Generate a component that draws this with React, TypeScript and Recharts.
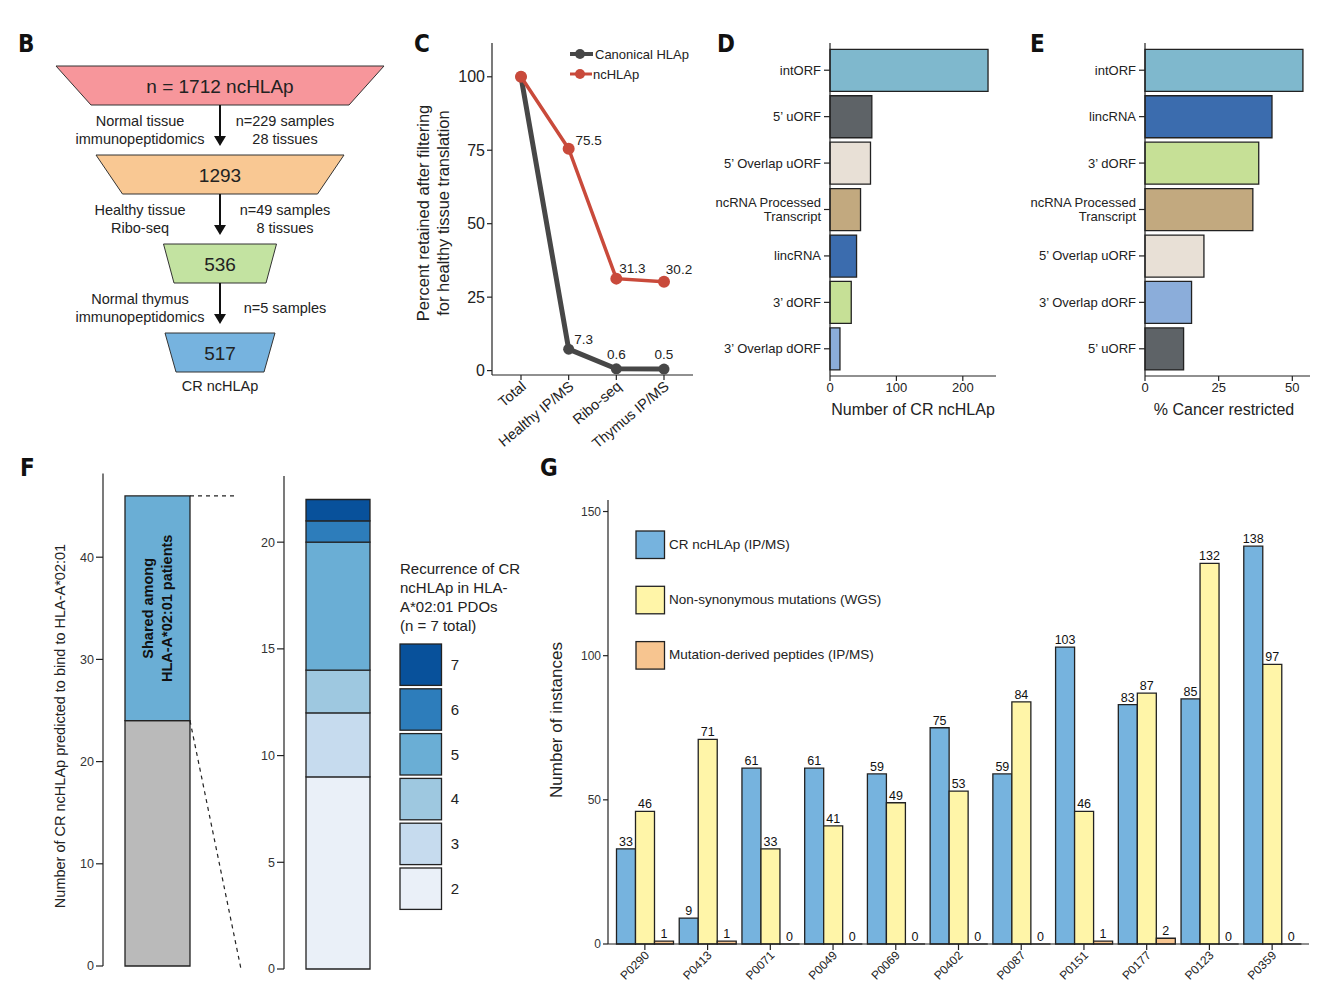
import React from 'react';
import { LineChart, Line, XAxis, YAxis, BarChart, Bar, Cell, LabelList, Trapezoid } from 'recharts';

const FONT = '"Liberation Sans", Arial, Helvetica, sans-serif';
const LETTER_FONT = '"Liberation Sans Narrow", "DejaVu Sans Condensed", "Liberation Sans", sans-serif';
const INK = '#222';

// ---- B: filtering funnel ----
const funnelCounts = [1712, 1293, 536, 517];
const funnelStepLeft = [['Normal tissue', 'immunopeptidomics'], ['Healthy tissue', 'Ribo-seq'], ['Normal thymus', 'immunopeptidomics']];
const funnelStepRight = [['n=229 samples', '28 tissues'], ['n=49 samples', '8 tissues'], ['n=5 samples']];

// ---- C: percent retained ----
const stages = ['Total', 'Healthy IP/MS', 'Ribo-seq', 'Thymus IP/MS'];
const canonicalPct = [100, 7.3, 0.6, 0.5];
const ncPct = [100, 75.5, 31.3, 30.2];

// ---- D: CR ncHLAp per ORF type ----
const orfTypesD = ['intORF', '5’ uORF', '5’ Overlap uORF', 'ncRNA Processed\nTranscript', 'lincRNA', '3’ dORF', '3’ Overlap dORF'];
const crCounts = [238, 63, 61, 46, 40, 32, 15];

// ---- E: % cancer restricted per ORF type ----
const orfTypesE = ['intORF', 'lincRNA', '3’ dORF', 'ncRNA Processed\nTranscript', '5’ Overlap uORF', '3’ Overlap dORF', '5’ uORF'];
const cancerRestrictedPct = [53.6, 43.1, 38.6, 36.6, 20, 15.8, 13.1];

// ---- F: HLA-A*02:01 binders ----
const notSharedCount = 24;
const sharedCount = 22;
const recurrenceLevels = [2, 3, 4, 5, 6, 7];
const recurrenceCounts = [9, 3, 2, 6, 1, 1];

// ---- G: instances per patient ----
const patients = ['P0290', 'P0413', 'P0071', 'P0049', 'P0069', 'P0402', 'P0087', 'P0151', 'P0177', 'P0123', 'P0359'];
const crNcHlap = [33, 9, 61, 61, 59, 75, 59, 103, 83, 85, 138];
const nonSynMut = [46, 71, 33, 41, 49, 53, 84, 46, 87, 132, 97];
const mutPeptides = [1, 1, 0, 0, 0, 0, 0, 1, 2, 0, 0];

const orfColors: Record<string, string> = {
  'intORF': '#7fb8cd',
  '5’ uORF': '#5e6367',
  '5’ Overlap uORF': '#e8e0d6',
  'ncRNA Processed\nTranscript': '#c2a97f',
  'lincRNA': '#3b6cae',
  '3’ dORF': '#c6e096',
  '3’ Overlap dORF': '#8badda',
};
const recurrenceColors: Record<number, string> = { 2: '#eaf0f8', 3: '#c6dbee', 4: '#9ec8e0', 5: '#6aaed5', 6: '#2d7dbb', 7: '#08519b' };

const retainedData = stages.map((s, i) => ({ stage: s, canonical: canonicalPct[i], nc: ncPct[i] }));
const dData = orfTypesD.map((t, i) => ({ type: t, value: crCounts[i] }));
const eData = orfTypesE.map((t, i) => ({ type: t, value: cancerRestrictedPct[i] }));
const fLeftData = [{ name: 'all', notShared: notSharedCount, shared: sharedCount }];
const fRightData = [{ name: 'shared', ...Object.fromEntries(recurrenceLevels.map((l, i) => [`r${l}`, recurrenceCounts[i]])) }];
const gData = patients.map((p, i) => ({ patient: p, cr: crNcHlap[i], mut: nonSynMut[i], pep: mutPeptides[i] }));

// F axes domains (shared with dashed connector lines)
const F_LEFT_MAX = 48.2;
const F_RIGHT_MAX = 23.1;

const CatTick = (props: any) => {
  const { x, y, payload, fontSize = 13 } = props;
  const lines = String(payload.value).split('\n');
  const lh = 13.5;
  const y0 = y - ((lines.length - 1) * lh) / 2;
  return (
    <text x={x} y={y0} textAnchor="end" fontSize={fontSize} fill={INK} fontFamily={FONT}>
      {lines.map((l, i) => (
        <tspan key={i} x={x} y={y0 + i * lh} dy="0.35em">{l}</tspan>
      ))}
    </text>
  );
};

const makeRotTick = (angle: number, fontSize: number, dx: number, dy: number) => (props: any) => {
  const { x, y, payload } = props;
  return (
    <text transform={`translate(${x + dx},${y + dy}) rotate(${angle})`} textAnchor="end" fontSize={fontSize} fill={INK} fontFamily={FONT}>
      {payload.value}
    </text>
  );
};

const makeLineLabel = (offsets: number[][]) => (props: any) => {
  const { x, y, value, index } = props;
  if (index === 0) return null;
  const [dx, dy] = offsets[index];
  return (
    <text x={x + dx} y={y + dy} textAnchor="middle" fontSize={13.5} fill={INK} fontFamily={FONT}>{value}</text>
  );
};

// value label above a bar; drawn even when the bar has zero height
const BarTopLabel = (props: any) => {
  const { x, y, width, value } = props;
  if (value === undefined || value === null) return null;
  return (
    <text x={x + width / 2} y={y - 3} textAnchor="middle" fontSize={12.5} fill="#111" fontFamily={FONT}>{value}</text>
  );
};

const SharedLabel = (props: any) => {
  const vb = props.viewBox || props;
  const cx = vb.x + vb.width / 2;
  const cy = vb.y + vb.height / 2;
  return (
    <text transform={`translate(${cx},${cy}) rotate(-90)`} textAnchor="middle" fontSize={14.5} fontWeight="bold" fill="#111" fontFamily={FONT}>
      <tspan x={0} y={-5}>Shared among</tspan>
      <tspan x={0} y={14}>HLA-A*02:01 patients</tspan>
    </text>
  );
};

const axisProps = { stroke: INK, strokeWidth: 1.2 };

function RetainedChart() {
  return (
    <div style={{ position: 'absolute', left: 400, top: 30 }}>
      <LineChart width={310} height={420} data={retainedData} margin={{ top: 13, right: 17, left: 0, bottom: 5 }} style={{ overflow: 'visible' }}>
        <XAxis dataKey="stage" interval={0} height={70} padding={{ left: 29, right: 29 }} tickSize={5} axisLine={axisProps} tickLine={axisProps} tick={makeRotTick(-40, 14.5, 6, 6)} />
        <YAxis type="number" domain={[-1.5, 111.5]} ticks={[0, 25, 50, 75, 100]} width={92} tickSize={5} axisLine={axisProps} tickLine={axisProps} tick={{ fontSize: 16, fill: INK, fontFamily: FONT }} />
        <Line dataKey="canonical" stroke="#474747" strokeWidth={5} dot={{ r: 5.5, fill: '#474747', stroke: '#474747', strokeWidth: 0 }} isAnimationActive={false}>
          <LabelList dataKey="canonical" content={makeLineLabel([[0, 0], [15, -5], [0, -10], [0, -10]])} />
        </Line>
        <Line dataKey="nc" stroke="#c94a3b" strokeWidth={3.5} dot={{ r: 6, fill: '#c94a3b', stroke: '#c94a3b', strokeWidth: 0 }} isAnimationActive={false}>
          <LabelList dataKey="nc" content={makeLineLabel([[0, 0], [20, -4], [16, -6], [15, -8]])} />
        </Line>
      </LineChart>
    </div>
  );
}

function OrfBarChart({ data, left, width, yWidth, rightMargin, domain, ticks }: any) {
  return (
    <div style={{ position: 'absolute', left, top: 30 }}>
      <BarChart width={width} height={400} data={data} layout="vertical" barCategoryGap="5%" margin={{ top: 13, right: rightMargin, left: 0, bottom: 24 }}>
        <XAxis type="number" domain={domain} ticks={ticks} height={30} tickSize={5} axisLine={axisProps} tickLine={axisProps} tick={{ fontSize: 13, fill: INK, fontFamily: FONT }} />
        <YAxis type="category" dataKey="type" interval={0} width={yWidth} padding={{ top: 4, bottom: 4 }} tickSize={6} tickMargin={3} axisLine={axisProps} tickLine={axisProps} tick={<CatTick />} />
        <Bar dataKey="value" stroke={INK} strokeWidth={1.3} isAnimationActive={false}>
          {data.map((d: any) => (
            <Cell key={d.type} fill={orfColors[d.type]} />
          ))}
        </Bar>
      </BarChart>
    </div>
  );
}

function SharedCharts() {
  const tickStyle = { fontSize: 12.5, fill: '#333', fontFamily: FONT };
  return (
    <>
      <div style={{ position: 'absolute', left: 0, top: 450 }}>
        <BarChart width={240} height={540} data={fLeftData} barSize={65} margin={{ top: 23.4, right: 28, left: 0, bottom: 24 }}>
          <XAxis dataKey="name" hide />
          <YAxis type="number" domain={[0, F_LEFT_MAX]} ticks={[0, 10, 20, 30, 40]} width={103} tickSize={7} axisLine={axisProps} tickLine={axisProps} tick={tickStyle} />
          <Bar dataKey="notShared" stackId="a" fill="#bababa" stroke={INK} strokeWidth={1.3} isAnimationActive={false} />
          <Bar dataKey="shared" stackId="a" fill="#6aaed5" stroke={INK} strokeWidth={1.3} isAnimationActive={false}>
            <LabelList dataKey="shared" content={<SharedLabel />} />
          </Bar>
        </BarChart>
      </div>
      <div style={{ position: 'absolute', left: 240, top: 450 }}>
        <BarChart width={152} height={540} data={fRightData} barSize={64} margin={{ top: 26, right: 0, left: 0, bottom: 21 }}>
          <XAxis dataKey="name" hide />
          <YAxis type="number" domain={[0, F_RIGHT_MAX]} ticks={[0, 5, 10, 15, 20]} width={44} tickSize={7} axisLine={axisProps} tickLine={axisProps} tick={tickStyle} />
          {recurrenceLevels.map((l) => (
            <Bar key={l} dataKey={`r${l}`} stackId="a" fill={recurrenceColors[l]} stroke={INK} strokeWidth={1.3} isAnimationActive={false} />
          ))}
        </BarChart>
      </div>
    </>
  );
}

function InstancesChart() {
  return (
    <div style={{ position: 'absolute', left: 540, top: 450 }}>
      <BarChart width={788} height={540} data={gData} barCategoryGap={3} barGap={0} margin={{ top: 50, right: 19, left: 0, bottom: 0 }}>
        <XAxis dataKey="patient" interval={0} height={46} padding={{ left: 5.5, right: 5.5 }} tickSize={6} axisLine={axisProps} tickLine={axisProps} tick={makeRotTick(-45, 12, 5, 4)} />
        <YAxis type="number" domain={[0, 154]} ticks={[0, 50, 100, 150]} width={68} tickSize={5} axisLine={axisProps} tickLine={axisProps} tick={{ fontSize: 12, fill: '#333', fontFamily: FONT }} />
        <Bar dataKey="cr" fill="#76b3de" stroke={INK} strokeWidth={1.3} isAnimationActive={false}>
          <LabelList dataKey="cr" content={BarTopLabel} />
        </Bar>
        <Bar dataKey="mut" fill="#fff5a8" stroke={INK} strokeWidth={1.3} isAnimationActive={false}>
          <LabelList dataKey="mut" content={BarTopLabel} />
        </Bar>
        <Bar dataKey="pep" fill="#f7c590" stroke={INK} strokeWidth={1.3} minPointSize={0.01} isAnimationActive={false}>
          <LabelList dataKey="pep" content={BarTopLabel} />
        </Bar>
      </BarChart>
    </div>
  );
}

// funnel tier geometry (style only)
const tiers = [
  { y: 66, up: 328, low: 258, fill: '#f7969b' },
  { y: 155, up: 248, low: 195, fill: '#f9c893' },
  { y: 244, up: 113, low: 92, fill: '#c3e3a1' },
  { y: 333, up: 110, low: 88, fill: '#76b3df' },
];
const TIER_H = 39;
const FCX = 220;

function Overlay() {
  const t = { fontFamily: FONT, fill: INK };
  // F connector lines follow the two F axes
  const leftY = (v: number) => 473.4 + (1 - v / F_LEFT_MAX) * 492.6;
  const rightY = (v: number) => 476 + (1 - v / F_RIGHT_MAX) * 493;
  return (
    <svg width={1328} height={1006} style={{ position: 'absolute', left: 0, top: 0, pointerEvents: 'none' }}>
      {/* panel letters */}
      {[['B', 18, 52], ['C', 414, 52], ['D', 717, 52], ['E', 1030, 52], ['F', 20, 476], ['G', 540, 476]].map(([l, x, y]) => (
        <text key={l as string} x={x as number} y={y as number} fontSize={24} fontWeight="bold" fontFamily={LETTER_FONT} fill="#111">{l}</text>
      ))}

      {/* B funnel */}
      {tiers.map((tr, i) => (
        <g key={i}>
          <Trapezoid x={FCX - tr.up / 2} y={tr.y} upperWidth={tr.up} lowerWidth={tr.low} height={TIER_H} fill={tr.fill} stroke="#333" strokeWidth={1} isUpdateAnimationActive={false} />
          <text x={FCX} y={tr.y + 27} textAnchor="middle" fontSize={19} {...t}>
            {i === 0 ? `n = ${funnelCounts[i]} ncHLAp` : funnelCounts[i]}
          </text>
        </g>
      ))}
      {funnelStepLeft.map((lines, i) => {
        const y1 = tiers[i].y + TIER_H;
        const y2 = tiers[i + 1].y - 9;
        const mid = (y1 + tiers[i + 1].y) / 2;
        const right = funnelStepRight[i];
        return (
          <g key={i}>
            <line x1={FCX} x2={FCX} y1={y1} y2={y2 - 9} stroke="#111" strokeWidth={2} />
            <polygon points={`${FCX - 6},${y2 - 10} ${FCX + 6},${y2 - 10} ${FCX},${y2}`} fill="#111" />
            {lines.map((s, j) => (
              <text key={j} x={140} y={mid - 9 + j * 18 + 5} textAnchor="middle" fontSize={14.5} {...t}>{s}</text>
            ))}
            {right.map((s, j) => (
              <text key={j} x={285} y={mid - ((right.length - 1) * 18) / 2 + j * 18 + 5} textAnchor="middle" fontSize={14.5} {...t}>{s}</text>
            ))}
          </g>
        );
      })}
      <text x={FCX} y={391} textAnchor="middle" fontSize={14.5} {...t}>CR ncHLAp</text>

      {/* C legend and axis title */}
      <line x1={570} x2={593} y1={54} y2={54} stroke="#474747" strokeWidth={4} />
      <circle cx={580} cy={54} r={5} fill="#474747" />
      <text x={595} y={58.5} fontSize={13} {...t}>Canonical HLAp</text>
      <line x1={570} x2={592} y1={74} y2={74} stroke="#c94a3b" strokeWidth={3} />
      <circle cx={580} cy={74} r={5} fill="#c94a3b" />
      <text x={593} y={78.5} fontSize={13} {...t}>ncHLAp</text>
      <text transform="translate(429,213) rotate(-90)" textAnchor="middle" fontSize={16.5} {...t}>Percent retained after filtering</text>
      <text transform="translate(449,213) rotate(-90)" textAnchor="middle" fontSize={16.5} {...t}>for healthy tissue translation</text>

      {/* D / E axis titles */}
      <text x={913} y={415} textAnchor="middle" fontSize={16} {...t}>Number of CR ncHLAp</text>
      <text x={1224} y={415} textAnchor="middle" fontSize={16} {...t}>% Cancer restricted</text>

      {/* F axis title, connectors, legend */}
      <text transform="translate(65,726) rotate(-90)" textAnchor="middle" fontSize={14.5} {...t}>Number of CR ncHLAp predicted to bind to HLA-A*02:01</text>
      <line x1={190} x2={237} y1={leftY(notSharedCount + sharedCount)} y2={leftY(notSharedCount + sharedCount)} stroke={INK} strokeWidth={1.2} strokeDasharray="4 4" />
      <line x1={190} x2={241} y1={leftY(notSharedCount)} y2={rightY(0)} stroke={INK} strokeWidth={1.2} strokeDasharray="4 4" />
      {['Recurrence of CR', 'ncHLAp in HLA-', 'A*02:01 PDOs', '(n = 7 total)'].map((s, i) => (
        <text key={i} x={400} y={574 + i * 19} fontSize={15} {...t}>{s}</text>
      ))}
      {[...recurrenceLevels].reverse().map((l, i) => (
        <g key={l}>
          <rect x={400} y={644 + i * 44.8} width={41.5} height={41.4} fill={recurrenceColors[l]} stroke={INK} strokeWidth={1.3} />
          <text x={455} y={670 + i * 44.8} textAnchor="middle" fontSize={15} {...t}>{l}</text>
        </g>
      ))}

      {/* G axis title and legend */}
      <text transform="translate(562,720) rotate(-90)" textAnchor="middle" fontSize={17} {...t}>Number of instances</text>
      {[['CR ncHLAp (IP/MS)', '#76b3de'], ['Non-synonymous mutations (WGS)', '#fff5a8'], ['Mutation-derived peptides (IP/MS)', '#f7c590']].map(([label, c], i) => (
        <g key={label}>
          <rect x={636} y={531 + i * 55.3} width={28.5} height={27.5} fill={c} stroke={INK} strokeWidth={1.3} />
          <text x={669} y={548.5 + i * 55.3} fontSize={13.5} {...t}>{label}</text>
        </g>
      ))}
    </svg>
  );
}

export default function App() {
  return (
    <div style={{ position: 'absolute', left: 0, top: 0, width: 1328, height: 1006, background: '#fff', fontFamily: FONT, overflow: 'hidden' }}>
      <RetainedChart />
      <OrfBarChart data={dData} left={700} width={310} yWidth={130} rightMargin={14} domain={[0, 250]} ticks={[0, 100, 200]} />
      <OrfBarChart data={eData} left={1010} width={318} yWidth={135} rightMargin={18} domain={[0, 56]} ticks={[0, 25, 50]} />
      <SharedCharts />
      <InstancesChart />
      <Overlay />
    </div>
  );
}
